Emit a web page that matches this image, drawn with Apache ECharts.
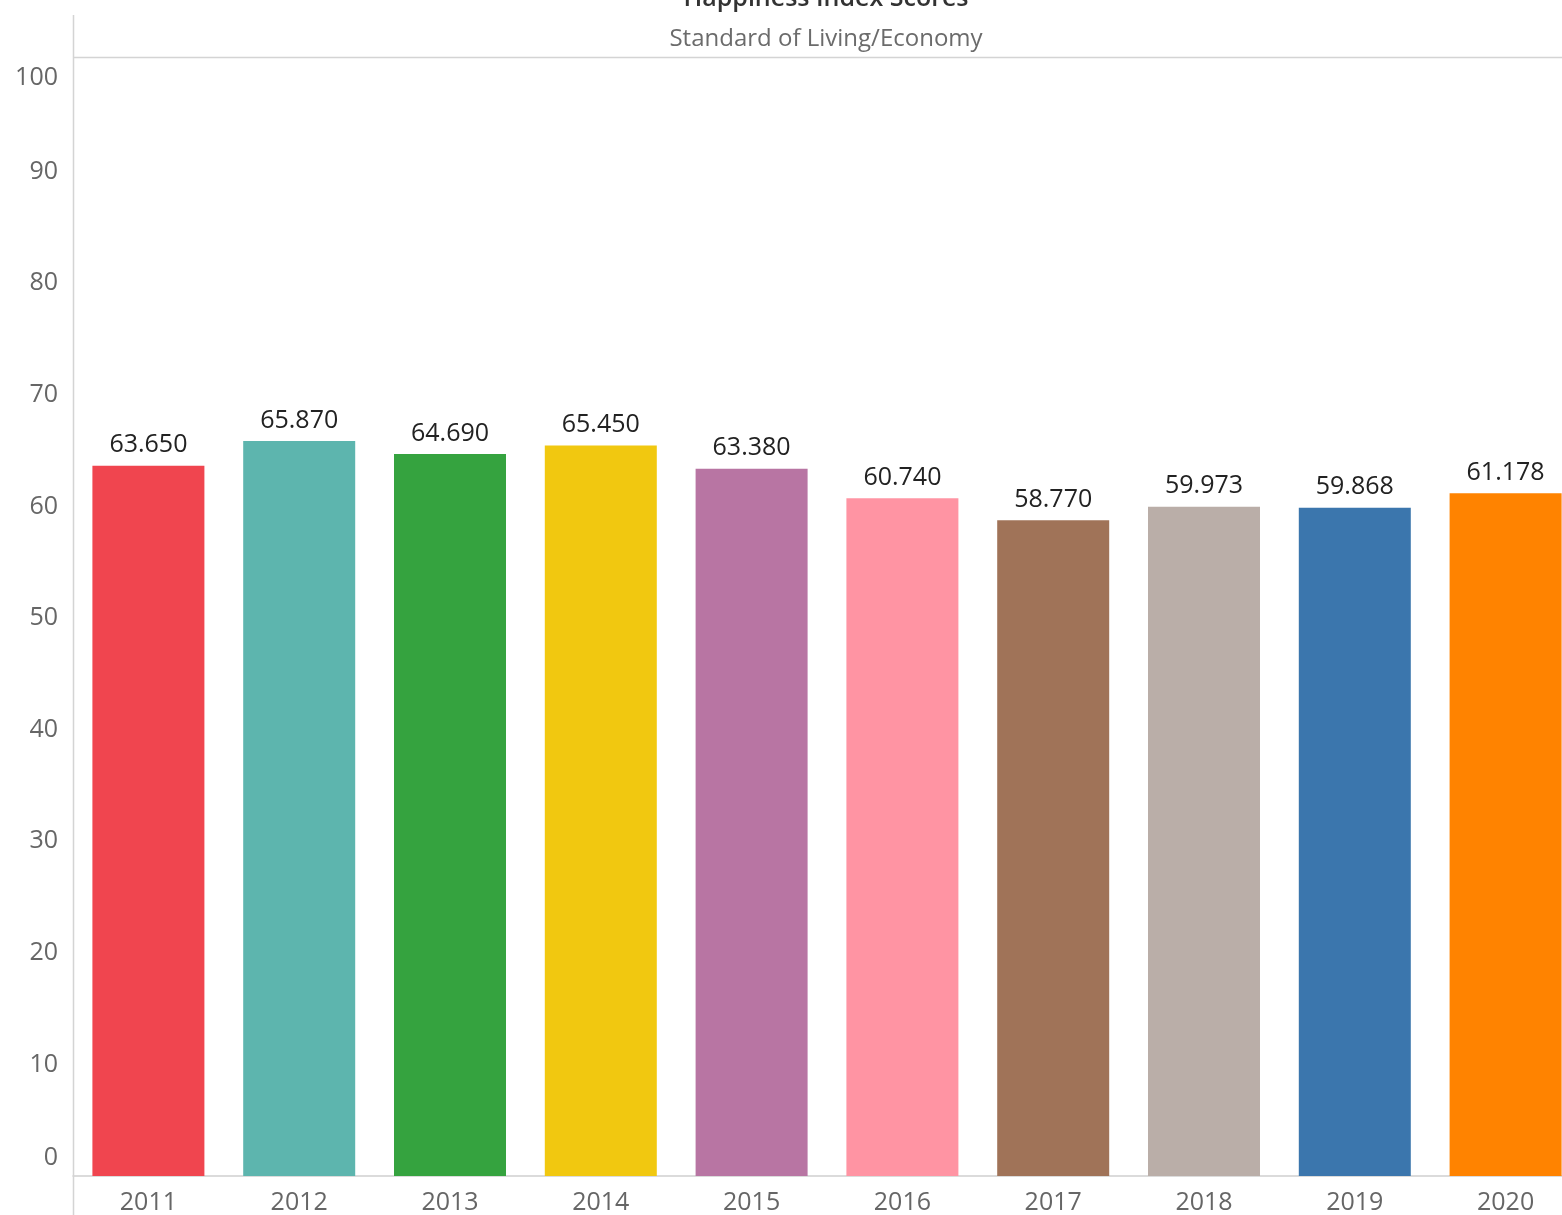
<!DOCTYPE html>
<html>
<head>
<meta charset="utf-8">
<style>
  html, body { margin: 0; padding: 0; background: #ffffff; overflow: hidden; }
  /* the plot pane runs a little past the right edge of the window */
  #chart { width: 1581px; height: 1215px; }
</style>
<script src="https://cdn.jsdelivr.net/npm/echarts@6/dist/echarts.min.js"></script>
</head>
<body>
<div id="chart"></div>
<script>
// Happiness Index Scores — Standard of Living/Economy, by year
const years = ['2011', '2012', '2013', '2014', '2015', '2016', '2017', '2018', '2019', '2020'];
const scores = [63.650, 65.870, 64.690, 65.450, 63.380, 60.740, 58.770, 59.973, 59.868, 61.178];
const barColors = ['#F0454F', '#5DB5AE', '#35A33F', '#F1C810', '#B875A3', '#FF94A3', '#A07358', '#BAAEA8', '#3B76AD', '#FF8300'];
const yTicks = [0, 10, 20, 30, 40, 50, 60, 70, 80, 90, 100];

const FONT = '"Open Sans", "Noto Sans", sans-serif';

const chart = echarts.init(document.getElementById('chart'), null, { renderer: 'canvas' });

const option = {
  animation: false,
  backgroundColor: '#ffffff',
  grid: { left: 73, top: 60, right: 0, bottom: 38, containLabel: false },
  graphic: [
    { type: 'text', z: 10,
      style: { x: 826, y: -1, text: 'Happiness Index Scores', fill: '#333333',
               font: '600 25px ' + FONT, textAlign: 'center', textVerticalAlign: 'middle' } },
    { type: 'text', z: 10,
      style: { x: 826, y: 39, text: 'Standard of Living/Economy', fill: '#6b6b6b',
               font: '24px ' + FONT, textAlign: 'center', textVerticalAlign: 'middle' } },
    { type: 'line', z: 5, shape: { x1: 73, y1: 57.5, x2: 1581, y2: 57.5 },
      style: { stroke: '#d4d4d4', lineWidth: 1.5 } },
    { type: 'line', z: 5, shape: { x1: 73.5, y1: 15, x2: 73.5, y2: 1215 },
      style: { stroke: '#d4d4d4', lineWidth: 1.5 } }
  ],
  xAxis: {
    type: 'category',
    data: years,
    axisLine: { show: true, lineStyle: { color: '#cfcfcf', width: 1.5 } },
    axisTick: { show: false },
    axisLabel: { color: '#666666', fontSize: 25, fontFamily: FONT, margin: 14 }
  },
  yAxis: {
    type: 'value',
    min: 0,
    max: 100,
    interval: 10,
    splitLine: { show: false },
    axisLine: { show: false },
    axisTick: { show: false },
    axisLabel: {
      color: '#666666', fontSize: 25, fontFamily: FONT, margin: 15, lineHeight: 36,
      verticalAlignMinLabel: 'bottom',
      verticalAlignMaxLabel: 'top',
      formatter: function (v) { return yTicks.indexOf(v) >= 0 ? String(v) : ''; }
    }
  },
  series: [{
    type: 'bar',
    barWidth: 112,
    data: scores.map(function (v, i) {
      return { value: v, itemStyle: { color: barColors[i] } };
    }),
    label: {
      show: true,
      position: 'top',
      distance: 8,
      color: '#222222',
      fontSize: 25,
      fontFamily: FONT,
      formatter: function (p) { return p.value.toFixed(3); }
    }
  }]
};

chart.setOption(option);
</script>
</body>
</html>
